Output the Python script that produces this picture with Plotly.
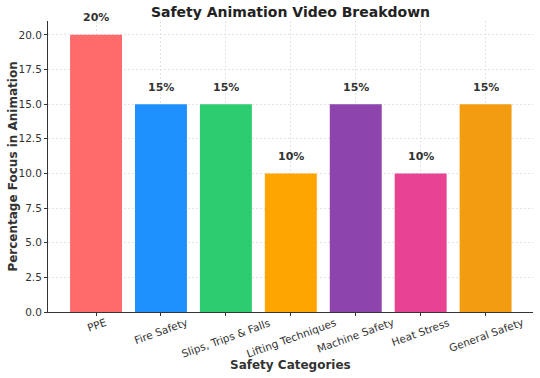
import math
import plotly.graph_objects as go

categories = ["PPE", "Fire Safety", "Slips, Trips & Falls", "Lifting Techniques",
              "Machine Safety", "Heat Stress", "General Safety"]
values = [20, 15, 15, 10, 15, 10, 15]
colors = ["#FF6B6B", "#1E90FF", "#2ECC71", "#FFA500", "#8E44AD", "#E84393", "#F39C12"]
y_ticks = [0, 2.5, 5, 7.5, 10, 12.5, 15, 17.5, 20]

FONT = "DejaVu Sans"
TXT = "#333333"
TICK_SIZE = 10.5
ANGLE = 20

# approximate DejaVu Sans advance widths (per 1000 em) to centre rotated labels like matplotlib
W = {' ': 318, ',': 318, '&': 780, 'P': 603, 'E': 632, 'F': 575, 'S': 635, 'T': 611,
     'L': 557, 'M': 863, 'H': 752, 'G': 775, 'C': 698, 'a': 613, 'c': 550, 'e': 615,
     'f': 352, 'g': 635, 'h': 634, 'i': 278, 'l': 278, 'n': 634, 'o': 612, 'p': 635,
     'q': 635, 'r': 411, 's': 521, 't': 392, 'u': 634, 'y': 592}


def text_len(s):
    return sum(W.get(ch, 600) for ch in s) * TICK_SIZE / 1000.0


fig = go.Figure()
fig.add_trace(go.Bar(
    x=list(range(len(categories))), y=values, width=0.8,
    marker=dict(color=colors, line=dict(width=0)),
    hoverinfo="skip",
))

for i, v in enumerate(values):
    fig.add_annotation(x=i, y=v, text=f"<b>{v}%</b>", showarrow=False,
                       yshift=17, font=dict(family=FONT, size=11, color=TXT))

# rotated, centre-aligned category labels (matplotlib style)
for i, c in enumerate(categories):
    L = text_len(c)
    h = L * math.sin(math.radians(ANGLE)) + 8 * math.cos(math.radians(ANGLE))
    fig.add_annotation(x=i, xref="x", y=0, yref="paper", text=c, showarrow=False,
                       textangle=-ANGLE, yanchor="middle", xanchor="center",
                       yshift=-(5.5 + h / 2),
                       font=dict(family=FONT, size=TICK_SIZE, color=TXT))

fig.add_annotation(x=0.5, xref="paper", y=-0.182, yref="paper", text="<b>Safety Categories</b>",
                   showarrow=False, xanchor="center", yanchor="middle",
                   font=dict(family=FONT, size=12, color=TXT))
fig.add_annotation(x=-0.074, xref="paper", y=0.5, yref="paper",
                   text="<b>Percentage Focus in Animation</b>", textangle=-90,
                   showarrow=False, xanchor="center", yanchor="middle",
                   font=dict(family=FONT, size=12, color=TXT))

fig.update_layout(
    width=540, height=378,
    margin=dict(l=48, r=7, t=21, b=66),
    plot_bgcolor="white", paper_bgcolor="white",
    showlegend=False,
    font=dict(family=FONT, color=TXT, size=10),
    title=dict(text="<b>Safety Animation Video Breakdown</b>", x=0.5, xref="paper", xanchor="center",
               y=0.968, yanchor="middle", font=dict(family=FONT, size=14, color="#222222")),
    bargap=0.2,
)
fig.update_xaxes(
    range=[-0.74, 6.73], automargin=False,
    tickmode="array", tickvals=list(range(len(categories))), ticktext=[""] * len(categories),
    showgrid=True, gridcolor="#E3E3E3", griddash="2px,2px", gridwidth=0.8,
    showline=True, linecolor="#333333", linewidth=1,
    ticks="outside", ticklen=3, tickcolor="#333333",
    zeroline=False, fixedrange=True,
)
fig.update_yaxes(
    range=[0, 21], automargin=False,
    tickmode="array", tickvals=y_ticks, ticktext=[f"{t:.1f}" for t in y_ticks],
    tickfont=dict(size=TICK_SIZE, color=TXT),
    showgrid=True, gridcolor="#E3E3E3", griddash="2px,2px", gridwidth=0.8,
    showline=True, linecolor="#333333", linewidth=1,
    ticks="outside", ticklen=3, tickcolor="#333333",
    zeroline=False, fixedrange=True,
)

fig.write_html("out.html", config={"displayModeBar": False},
               post_script="document.body.style.margin='0';document.body.style.overflow='hidden';")
